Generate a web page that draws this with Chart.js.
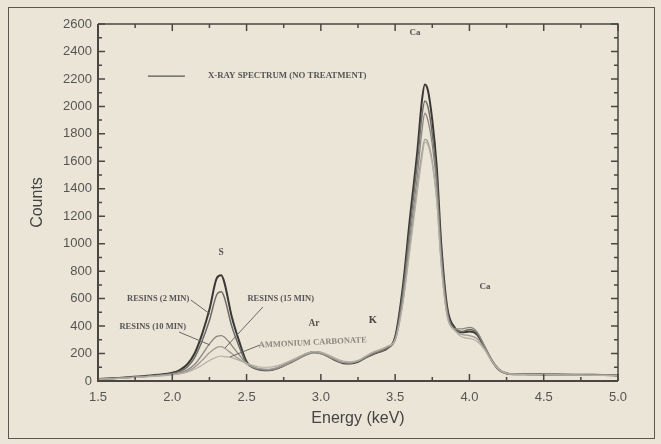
<!DOCTYPE html>
<html>
<head>
<meta charset="utf-8">
<script src="https://cdn.jsdelivr.net/npm/chart.js@4.4.1/dist/chart.umd.min.js"></script>
<style>
  html, body { margin: 0; padding: 0; background: #ebe5d7; }
  #wrap { position: relative; width: 661px; height: 444px; }
  #frame { position: absolute; left: 8px; top: 7px; width: 645px; height: 430px; border: 1.5px solid #5a5650; pointer-events: none; }
  canvas { position: absolute; left: 0; top: 0; }
</style>
</head>
<body>
<div id="wrap">
  <canvas id="myChart" width="661" height="444"></canvas>
  <div id="frame"></div>
</div>
<script>
// energias (keV) y cuentas de cada espectro
const energia = [1.50,1.60,1.70,1.80,1.90,2.00,2.05,2.10,2.15,2.20,2.25,2.30,2.33,2.35,2.40,2.45,2.50,2.55,2.60,2.65,2.70,2.80,2.90,2.95,3.00,3.05,3.10,3.15,3.20,3.25,3.30,3.35,3.40,3.45,3.50,3.55,3.60,3.65,3.68,3.70,3.72,3.75,3.78,3.81,3.85,3.90,3.95,4.00,4.05,4.10,4.15,4.20,4.25,4.30,4.40,4.50,4.60,4.70,4.80,4.90,5.00];

const sinTratamiento = [15,20,28,35,45,60,80,120,200,340,520,750,770,720,470,290,140,95,80,78,90,140,195,212,205,180,150,130,128,140,170,195,215,240,320,670,1190,1680,2040,2160,2120,1900,1560,1000,540,390,355,360,340,250,150,80,55,50,50,48,47,46,45,44,40];
const resinas2 = [15,20,26,33,42,55,70,100,170,290,440,630,650,610,400,250,130,95,80,78,88,135,190,210,200,178,150,132,130,145,170,195,215,240,310,630,1120,1600,1930,2040,2000,1800,1480,950,520,380,360,375,350,255,150,82,55,50,48,47,46,45,44,43,40];
const resinas10 = [15,18,25,32,40,50,60,80,120,190,270,325,330,320,260,190,130,100,85,82,92,140,190,205,200,180,155,135,132,145,175,205,225,250,300,590,1050,1500,1820,1950,1900,1720,1420,900,500,380,380,390,360,260,155,85,57,52,50,48,46,45,44,43,40];
const resinas15 = [12,18,24,30,38,48,55,70,100,150,205,245,250,240,200,160,125,100,88,85,95,140,195,212,205,182,155,135,132,145,175,205,225,250,295,560,990,1420,1660,1760,1740,1600,1330,860,480,370,340,330,310,240,150,82,55,50,48,46,45,44,43,42,40];
const amonio = [12,16,22,28,35,45,52,65,85,115,150,175,182,178,170,150,130,110,100,100,108,150,200,215,210,190,165,145,140,150,180,210,230,255,300,550,960,1380,1620,1740,1720,1580,1310,840,470,370,320,310,290,230,145,80,55,50,47,46,44,43,42,41,40];

// ticks de los ejes
const ticksX = [1.5, 2.0, 2.5, 3.0, 3.5, 4.0, 4.5, 5.0];
const ticksXmenor = [1.75, 2.25, 2.75, 3.25, 3.75, 4.25, 4.75];
const ticksY = [0, 200, 400, 600, 800, 1000, 1200, 1400, 1600, 1800, 2000, 2200, 2400, 2600];
const ticksYmenor = [100, 300, 500, 700, 900, 1100, 1300, 1500, 1700, 1900, 2100, 2300, 2500];

// rótulos sobre el gráfico: [texto, energía, cuentas, tamaño, color, giro]
const rotulos = [
  ["Ca", 3.633, 2535, 9, "#555", 0],
  ["S", 2.328, 932, 9.5, "#555", 0],
  ["Ca", 4.104, 685, 9, "#555", 0],
  ["K", 3.35, 444, 10.5, "#444", 0],
  ["Ar", 2.954, 415, 9.5, "#555", 0],
  ["RESINS (2 MIN)", 1.905, 597, 8.5, "#555", 0],
  ["RESINS (15 MIN)", 2.73, 597, 8.5, "#555", 0],
  ["RESINS (10 MIN)", 1.868, 393, 8.5, "#555", 0],
  ["AMMONIUM CARBONATE", 2.945, 279, 8.5, "#8a867e", -0.05]
];
// líneas guía: [e1, c1, e2, c2]
const guias = [
  [2.125, 590, 2.254, 488],
  [2.61, 539, 2.355, 240],
  [2.045, 357, 2.254, 262],
  [2.59, 262, 2.388, 175]
];
// leyenda
const leyenda = { texto: "X-RAY SPECTRUM (NO TREATMENT)", e1: 1.836, e2: 2.085, eTexto: 2.24, c: 2221 };

const serie = (datos) => energia.map((e, i) => ({ x: e, y: datos[i] }));

const marcos = {
  id: "marcos",
  afterDatasetsDraw(ch) {
    const { ctx, chartArea: a, scales: { x, y } } = ch;
    ctx.save();
    ctx.strokeStyle = "#4a4742";
    // marco del área
    ctx.lineWidth = 2;
    ctx.beginPath();
    ctx.moveTo(a.left, a.top); ctx.lineTo(a.left, a.bottom); ctx.lineTo(a.right, a.bottom);
    ctx.stroke();
    ctx.lineWidth = 1.5;
    ctx.beginPath();
    ctx.moveTo(a.left, a.top); ctx.lineTo(a.right, a.top); ctx.lineTo(a.right, a.bottom);
    ctx.stroke();
    // ticks hacia dentro en los cuatro lados
    const marcaX = (v, l) => {
      const px = x.getPixelForValue(v);
      ctx.moveTo(px, a.bottom); ctx.lineTo(px, a.bottom - l);
      ctx.moveTo(px, a.top); ctx.lineTo(px, a.top + l);
    };
    const marcaY = (v, l) => {
      const py = y.getPixelForValue(v);
      ctx.moveTo(a.left, py); ctx.lineTo(a.left + l, py);
      ctx.moveTo(a.right, py); ctx.lineTo(a.right - l, py);
    };
    ctx.lineWidth = 1.5;
    ctx.beginPath();
    ticksX.forEach(v => marcaX(v, 7));
    ticksXmenor.forEach(v => marcaX(v, 4));
    ticksY.forEach(v => marcaY(v, 7));
    ticksYmenor.forEach(v => marcaY(v, 4));
    ctx.stroke();

    // leyenda
    const ly = y.getPixelForValue(leyenda.c);
    ctx.strokeStyle = "#555";
    ctx.lineWidth = 1.2;
    ctx.beginPath();
    ctx.moveTo(x.getPixelForValue(leyenda.e1), ly);
    ctx.lineTo(x.getPixelForValue(leyenda.e2), ly);
    ctx.stroke();
    ctx.fillStyle = "#555";
    ctx.font = "bold 8.8px 'Liberation Serif'";
    ctx.textAlign = "left";
    ctx.textBaseline = "middle";
    ctx.fillText(leyenda.texto, x.getPixelForValue(leyenda.eTexto), ly);

    // líneas guía
    ctx.strokeStyle = "#666";
    ctx.lineWidth = 1;
    ctx.beginPath();
    guias.forEach(g => {
      ctx.moveTo(x.getPixelForValue(g[0]), y.getPixelForValue(g[1]));
      ctx.lineTo(x.getPixelForValue(g[2]), y.getPixelForValue(g[3]));
    });
    ctx.stroke();

    // rótulos
    ctx.textAlign = "center";
    rotulos.forEach(r => {
      ctx.save();
      ctx.translate(x.getPixelForValue(r[1]), y.getPixelForValue(r[2]));
      ctx.rotate(r[5]);
      ctx.fillStyle = r[4];
      ctx.font = `bold ${r[3]}px 'Liberation Serif'`;
      ctx.fillText(r[0], 0, 0);
      ctx.restore();
    });
    ctx.restore();
  }
};

const linea = (datos, color, ancho) => ({
  data: serie(datos),
  borderColor: color,
  borderWidth: ancho,
  pointRadius: 0,
  fill: false,
  cubicInterpolationMode: "monotone"
});

new Chart(document.getElementById("myChart").getContext("2d"), {
  type: "line",
  data: {
    datasets: [
      linea(amonio, "#b3afa5", 1.2),
      linea(resinas15, "#9d9a93", 1.3),
      linea(resinas10, "#8a8781", 1.3),
      linea(resinas2, "#6e6b66", 1.5),
      linea(sinTratamiento, "#3a3835", 2)
    ]
  },
  options: {
    responsive: false,
    animation: false,
    layout: { padding: { left: 0, top: 24, right: 43, bottom: 0 } },
    plugins: { legend: { display: false }, tooltip: { enabled: false } },
    scales: {
      x: {
        type: "linear",
        min: 1.5, max: 5.0,
        afterFit: s => { s.height = 63; },
        afterBuildTicks: s => { s.ticks = ticksX.map(v => ({ value: v })); },
        grid: { display: false, drawTicks: false },
        border: { display: false },
        ticks: { padding: 9, color: "#555", font: { family: "Arial, 'Liberation Sans'", size: 13 }, callback: v => v.toFixed(1) },
        title: { display: true, text: "Energy (keV)", color: "#444", font: { family: "Arial, 'Liberation Sans'", size: 16 }, padding: { top: 0, bottom: 16 } }
      },
      y: {
        min: 0, max: 2600,
        afterFit: s => { s.width = 98; },
        afterBuildTicks: s => { s.ticks = ticksY.map(v => ({ value: v })); },
        grid: { display: false, drawTicks: false },
        border: { display: false },
        ticks: { padding: 6, color: "#555", font: { family: "Arial, 'Liberation Sans'", size: 13 }, callback: v => String(v) },
        title: { display: true, text: "Counts", color: "#444", font: { family: "Arial, 'Liberation Sans'", size: 16 }, padding: { top: 28, bottom: 0 } }
      }
    }
  },
  plugins: [marcos]
});
</script>
</body>
</html>
